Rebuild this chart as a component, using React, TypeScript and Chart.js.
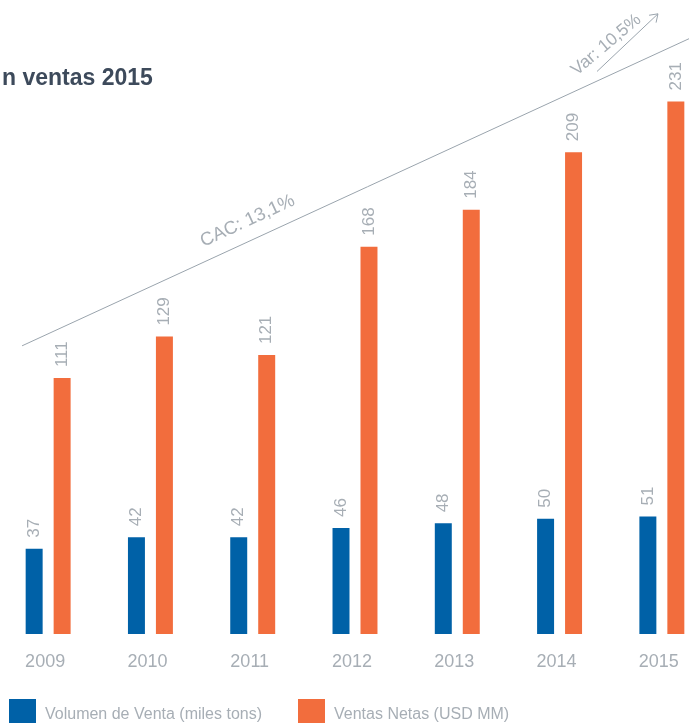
import { useEffect, useRef } from "react";
import { Chart, registerables } from "chart.js";

Chart.register(...registerables);

// Yearly figures
const years = ["2009", "2010", "2011", "2012", "2013", "2014", "2015"];
const volumen = [37, 42, 42, 46, 48, 50, 51];
const ventas = [111, 129, 121, 168, 184, 209, 231];
const seriesNames = ["Volumen de Venta (miles tons)", "Ventas Netas (USD MM)"];
const seriesColors = ["#0061a7", "#f26d3d"];

const titleText = "n ventas 2015";
const cacLabel = "CAC: 13,1%";
const varLabel = "Var: 10,5%";

// Annotation anchors as [category index, value]
const trendFrom = [-0.255, 125];
const trendTo = [6.5, 263];
const varFrom = [5.366, 244];
const varTo = [5.962, 269];

const FONT = "'Helvetica Neue', Helvetica, 'Liberation Sans', Arial, sans-serif";
const GREY_TEXT = "#a7aeb5";
const GREY_LINE = "#9aa4ad";

const W = 716;
const H = 723;
const SHIFT = 3; // canvas is moved this far to the left

const overlay = {
  id: "overlay",
  afterDraw(chart: any) {
    const { ctx, scales } = chart;
    const xs = scales.x;
    const ys = scales.y;
    const px = (p: number[]) => [xs.getPixelForValue(p[0]), ys.getPixelForValue(p[1])];

    ctx.save();

    // Title
    ctx.fillStyle = "#3d4a5b";
    ctx.font = `bold 23px ${FONT}`;
    ctx.textAlign = "left";
    ctx.textBaseline = "alphabetic";
    ctx.fillText(titleText, 2 + SHIFT, 85);

    // Trend line
    const [x1, y1] = px(trendFrom);
    const [x2, y2] = px(trendTo);
    ctx.strokeStyle = GREY_LINE;
    ctx.lineWidth = 1;
    ctx.beginPath();
    ctx.moveTo(x1, y1);
    ctx.lineTo(x2, y2);
    ctx.stroke();

    // CAC label along the trend line
    const ang = Math.atan2(y2 - y1, x2 - x1);
    const t = 0.338;
    const cx = x1 + (x2 - x1) * t + Math.sin(ang) * 19;
    const cy = y1 + (y2 - y1) * t - Math.cos(ang) * 19;
    ctx.save();
    ctx.translate(cx, cy);
    ctx.rotate(ang);
    ctx.fillStyle = GREY_TEXT;
    ctx.font = `18.5px ${FONT}`;
    ctx.textAlign = "center";
    ctx.textBaseline = "middle";
    ctx.fillText(cacLabel, 0, 0);
    ctx.restore();

    // Variation arrow
    const [a1, b1] = px(varFrom);
    const [a2, b2] = px(varTo);
    const va = Math.atan2(b2 - b1, a2 - a1);
    ctx.strokeStyle = GREY_LINE;
    ctx.beginPath();
    ctx.moveTo(a1, b1);
    ctx.lineTo(a2, b2);
    const head = 9;
    ctx.moveTo(a2 - head * Math.cos(va - 0.6), b2 - head * Math.sin(va - 0.6));
    ctx.lineTo(a2, b2);
    ctx.lineTo(a2 - head * Math.cos(va + 0.6), b2 - head * Math.sin(va + 0.6));
    ctx.stroke();

    const vmx = (a1 + a2) / 2 - Math.cos(va) * 17 + Math.sin(va) * 13;
    const vmy = (b1 + b2) / 2 - Math.sin(va) * 17 - Math.cos(va) * 13;
    ctx.save();
    ctx.translate(vmx, vmy);
    ctx.rotate(-0.7);
    ctx.fillStyle = GREY_TEXT;
    ctx.font = `17.5px ${FONT}`;
    ctx.textAlign = "center";
    ctx.textBaseline = "middle";
    ctx.fillText(varLabel, 0, 0);
    ctx.restore();

    // Value labels above bars, rotated
    ctx.fillStyle = GREY_TEXT;
    ctx.font = `17px ${FONT}`;
    ctx.textAlign = "left";
    ctx.textBaseline = "middle";
    chart.data.datasets.forEach((ds: any, di: number) => {
      const meta = chart.getDatasetMeta(di);
      meta.data.forEach((bar: any, i: number) => {
        ctx.save();
        ctx.translate(bar.x, bar.y - 11);
        ctx.rotate(-Math.PI / 2);
        ctx.fillText(String(ds.data[i]), 0, 0);
        ctx.restore();
      });
    });

    // Legend
    const legendX = [9 + SHIFT, 298 + SHIFT];
    ctx.font = `16px ${FONT}`;
    ctx.textBaseline = "alphabetic";
    seriesNames.forEach((name, i) => {
      ctx.fillStyle = seriesColors[i];
      ctx.fillRect(legendX[i], 699, 27, 27);
      ctx.fillStyle = GREY_TEXT;
      ctx.fillText(name, legendX[i] + 36, 719);
    });

    ctx.restore();
  },
};

export default function App() {
  const ref = useRef<HTMLCanvasElement | null>(null);

  useEffect(() => {
    if (!ref.current) return;
    const chart = new Chart(ref.current, {
      type: "bar",
      data: {
        labels: years,
        datasets: [
          {
            label: seriesNames[0],
            data: volumen,
            backgroundColor: seriesColors[0],
            categoryPercentage: 0.547,
            barPercentage: 0.607,
          },
          {
            label: seriesNames[1],
            data: ventas,
            backgroundColor: seriesColors[1],
            categoryPercentage: 0.547,
            barPercentage: 0.607,
          },
        ],
      },
      options: {
        animation: false,
        responsive: false,
        maintainAspectRatio: false,
        devicePixelRatio: 1,
        layout: { padding: 0 },
        plugins: {
          legend: { display: false },
          title: { display: false },
          tooltip: { enabled: false },
        },
        scales: {
          x: {
            grid: { display: false, drawTicks: false },
            border: { display: false },
            ticks: {
              color: GREY_TEXT,
              font: { size: 18, family: FONT },
              padding: 17,
              labelOffset: -3,
            },
            afterFit: (scale: any) => {
              scale.height = 89;
            },
          },
          y: {
            display: false,
            min: 0,
            max: 275,
          },
        },
      },
      plugins: [overlay],
    });
    return () => chart.destroy();
  }, []);

  return (
    <div
      style={{
        position: "fixed",
        left: 0,
        top: 0,
        width: 689,
        height: 723,
        overflow: "hidden",
        background: "#fff",
      }}
    >
      <canvas
        ref={ref}
        width={W}
        height={H}
        style={{ display: "block", width: W, height: H, marginLeft: -SHIFT }}
      />
    </div>
  );
}
